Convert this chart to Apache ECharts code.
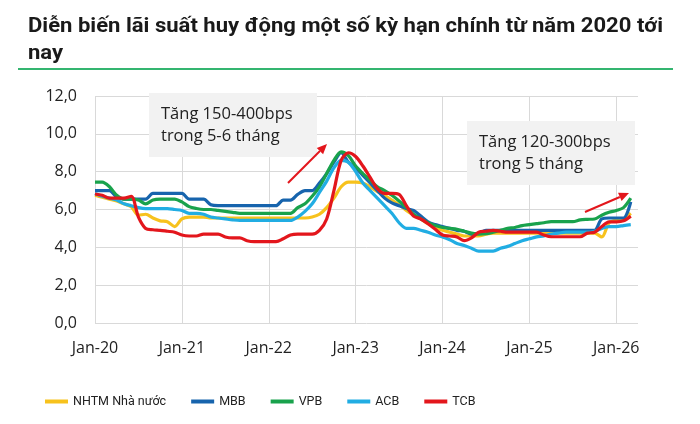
<!DOCTYPE html>
<html>
<head>
<meta charset="utf-8">
<script src="https://cdn.jsdelivr.net/npm/echarts@6/dist/echarts.min.js"></script>
<style>
  html, body { margin: 0; padding: 0; background: #fff; }
  #mainchart { width: 700px; height: 424px; }
</style>
</head>
<body>
<div id="mainchart"></div>
<script>
// months Jan-20 .. Apr-26 (last month left empty, the axis runs a little past the data)
var monthNames = ['Jan','Feb','Mar','Apr','May','Jun','Jul','Aug','Sep','Oct','Nov','Dec'];
var months = [];
for (var y = 20; y <= 26; y++) {
    for (var k = 0; k < 12; k++) {
        if (y === 26 && k > 3) break;
        months.push(monthNames[k] + '-' + y);
    }
}

var yTicks = [0, 2, 4, 6, 8, 10, 12];

// lãi suất huy động (%), one value per month
var nhtm = [6.75, 6.65, 6.55, 6.45, 6.3, 6.15, 5.7, 5.75, 5.55, 5.4, 5.35, 5.1,
            5.5, 5.6, 5.6, 5.6, 5.55, 5.55, 5.55, 5.55, 5.55, 5.55, 5.55, 5.55,
            5.55, 5.55, 5.55, 5.55, 5.55, 5.55, 5.6, 5.75, 6.1, 6.6, 7.2, 7.45,
            7.45, 7.4, 7.2, 6.95, 6.75, 6.5, 6.25, 5.95, 5.7, 5.5, 5.25, 5.05,
            4.9, 4.8, 4.7, 4.6, 4.6, 4.6, 4.7, 4.75, 4.75, 4.75, 4.75, 4.75,
            4.75, 4.75, 4.75, 4.75, 4.75, 4.75, 4.75, 4.75, 4.75, 4.75, 4.55, 5.3,
            5.45, 5.5, 5.8, null];
var mbb = [7.0, 7.0, 7.0, 6.65, 6.55, 6.55, 6.55, 6.55, 6.85, 6.85, 6.85, 6.85,
           6.85, 6.55, 6.55, 6.55, 6.25, 6.2, 6.2, 6.2, 6.2, 6.2, 6.2, 6.2,
           6.2, 6.2, 6.5, 6.5, 6.8, 7.0, 7.0, 7.4, 7.9, 8.5, 9.0, 8.5,
           8.2, 7.8, 7.4, 7.0, 6.6, 6.35, 6.2, 6.05, 5.95, 5.65, 5.35, 5.2,
           5.1, 5.0, 4.9, 4.85, 4.7, 4.75, 4.9, 4.9, 4.9, 4.9, 4.9, 4.9,
           4.9, 4.9, 4.9, 4.9, 4.9, 4.9, 4.9, 4.9, 4.9, 4.9, 5.5, 5.55,
           5.55, 5.55, 6.4, null];
var vpb = [7.45, 7.45, 7.2, 6.75, 6.55, 6.55, 6.5, 6.3, 6.5, 6.55, 6.55, 6.55,
           6.4, 6.15, 6.05, 6.0, 6.0, 5.95, 5.9, 5.85, 5.8, 5.8, 5.8, 5.8,
           5.8, 5.8, 5.8, 5.8, 6.1, 6.3, 6.7, 7.2, 7.9, 8.6, 9.05, 8.85,
           8.3, 7.9, 7.55, 7.2, 7.0, 6.75, 6.45, 6.1, 5.75, 5.5, 5.3, 5.15,
           5.05, 5.0, 4.95, 4.85, 4.75, 4.7, 4.72, 4.8, 4.9, 5.0, 5.05, 5.15,
           5.2, 5.25, 5.3, 5.36, 5.36, 5.36, 5.36, 5.45, 5.48, 5.5, 5.7, 5.85,
           5.95, 6.1, 6.6, null];
var acb = [6.85, 6.7, 6.6, 6.5, 6.3, 6.2, 6.1, 6.05, 6.05, 6.05, 6.05, 6.0,
           5.95, 5.8, 5.8, 5.75, 5.6, 5.55, 5.5, 5.45, 5.42, 5.42, 5.42, 5.42,
           5.42, 5.42, 5.42, 5.42, 5.6, 5.9, 6.3, 6.9, 7.5, 8.2, 8.6, 8.5,
           8.0, 7.4, 7.0, 6.6, 6.2, 5.8, 5.3, 5.0, 5.0, 4.9, 4.8, 4.65,
           4.55, 4.4, 4.2, 4.1, 3.95, 3.8, 3.8, 3.8, 3.95, 4.05, 4.2, 4.35,
           4.45, 4.55, 4.6, 4.7, 4.75, 4.8, 4.8, 4.8, 4.8, 4.85, 5.0, 5.1,
           5.1, 5.15, 5.2, null];
var tcb = [6.82, 6.75, 6.6, 6.6, 6.6, 6.7, 5.6, 5.0, 4.93, 4.9, 4.85, 4.8,
           4.65, 4.6, 4.6, 4.7, 4.7, 4.7, 4.55, 4.5, 4.5, 4.35, 4.3, 4.3,
           4.3, 4.3, 4.45, 4.65, 4.7, 4.7, 4.7, 4.9, 5.5, 7.0, 8.6, 9.0,
           8.8, 8.3, 7.7, 7.1, 6.85, 6.85, 6.8, 6.2, 5.65, 5.5, 5.25, 4.95,
           4.65, 4.6, 4.55, 4.35, 4.5, 4.8, 4.85, 4.9, 4.85, 4.8, 4.8, 4.8,
           4.8, 4.8, 4.65, 4.56, 4.56, 4.56, 4.56, 4.56, 4.75, 4.8, 5.1, 5.35,
           5.35, 5.4, 5.65, null];

var seriesNames = ['NHTM Nhà nước', 'MBB', 'VPB', 'ACB', 'TCB'];
var seriesData = [nhtm, mbb, vpb, acb, tcb];
var colors = ['#f7c21d', '#1764ad', '#19a24c', '#21ade3', '#e3161c'];

var titleLines = ['Diễn biến lãi suất huy động một số kỳ hạn chính từ năm 2020 tới', 'nay'];

var plain = '"Open Sans", "Noto Sans", sans-serif';
var titleFont = 'bold 20px Roboto, "Noto Sans", sans-serif';

// the original title is set in a condensed face, squeeze a normal one to the same width
var ctx = document.createElement('canvas').getContext('2d');
ctx.font = titleFont;
var titleScale = 635 / ctx.measureText(titleLines[0]).width;

// red arrow: line + filled head
function arrow(x1, y1, x2, y2) {
    var a = Math.atan2(y2 - y1, x2 - x1), len = 10, w = 4.5;
    var bx = x2 - len * Math.cos(a), by = y2 - len * Math.sin(a);
    return [{
        type: 'line', z: 100,
        shape: { x1: x1, y1: y1, x2: bx, y2: by },
        style: { stroke: '#e3161c', lineWidth: 2 }
    }, {
        type: 'polygon', z: 100,
        shape: { points: [[x2, y2],
            [bx + w * Math.sin(a), by - w * Math.cos(a)],
            [bx - w * Math.sin(a), by + w * Math.cos(a)]] },
        style: { fill: '#e3161c' }
    }];
}

function note(x, y, w, h, txt) {
    return [{
        type: 'rect', z: 90,
        shape: { x: x, y: y, width: w, height: h },
        style: { fill: '#f2f2f2' }
    }, {
        type: 'text', z: 91, x: x + 12, y: y + 10,
        style: { text: txt, font: '16.5px ' + plain, fill: '#222', lineHeight: 22 }
    }];
}

var myChart = echarts.init(document.getElementById('mainchart'));

var option = {
    animation: false,
    color: colors,
    legend: {
        data: seriesNames,
        left: 45, top: 395, padding: 0,
        icon: 'rect', itemWidth: 23, itemHeight: 4,
        itemGap: 25, itemTextGap: 3,
        textStyle: { fontFamily: 'Roboto, sans-serif', fontSize: 12.5, color: '#222' }
    },
    grid: { left: 95, right: 62, top: 96, bottom: 101 },
    xAxis: {
        type: 'category',
        data: months,
        boundaryGap: false,
        axisLine: { show: false },
        axisTick: { show: false },
        axisLabel: {
            interval: function (i) { return i % 12 === 0; },
            margin: 17, fontFamily: plain, fontSize: 16, color: '#222'
        },
        splitLine: {
            show: true,
            interval: function (i) { return i % 12 === 0; },
            lineStyle: { color: '#d9d9d9', width: 1 }
        }
    },
    yAxis: {
        type: 'value',
        min: yTicks[0], max: yTicks[yTicks.length - 1], interval: 2,
        axisLine: { show: false },
        axisTick: { show: false },
        axisLabel: {
            margin: 18, fontFamily: plain, fontSize: 16, color: '#222',
            formatter: function (v) { return v.toFixed(1).replace('.', ','); }
        },
        splitLine: { lineStyle: { color: '#d9d9d9', width: 1 } }
    },
    series: seriesNames.map(function (name, i) {
        return {
            name: name,
            type: 'line',
            data: seriesData[i],
            symbol: 'none',
            smooth: 0.3,
            lineStyle: { width: 3.2, color: colors[i] }
        };
    }),
    graphic: [{
        type: 'text', x: 28, y: 13, scaleX: titleScale,
        style: { text: titleLines.join('\n'), font: titleFont, fill: '#1a1a1a', lineHeight: 27 }
    }, {
        type: 'line',
        shape: { x1: 18, y1: 69, x2: 673, y2: 69 },
        style: { stroke: '#34b570', lineWidth: 2 }
    }].concat(
        note(149, 93, 168, 64, 'Tăng 150-400bps\ntrong 5-6 tháng'),
        note(467, 121, 168, 64, 'Tăng 120-300bps\ntrong 5 tháng'),
        arrow(288, 183, 327, 144),
        arrow(585, 212, 629, 193)
    )
};

myChart.setOption(option);
</script>
</body>
</html>
